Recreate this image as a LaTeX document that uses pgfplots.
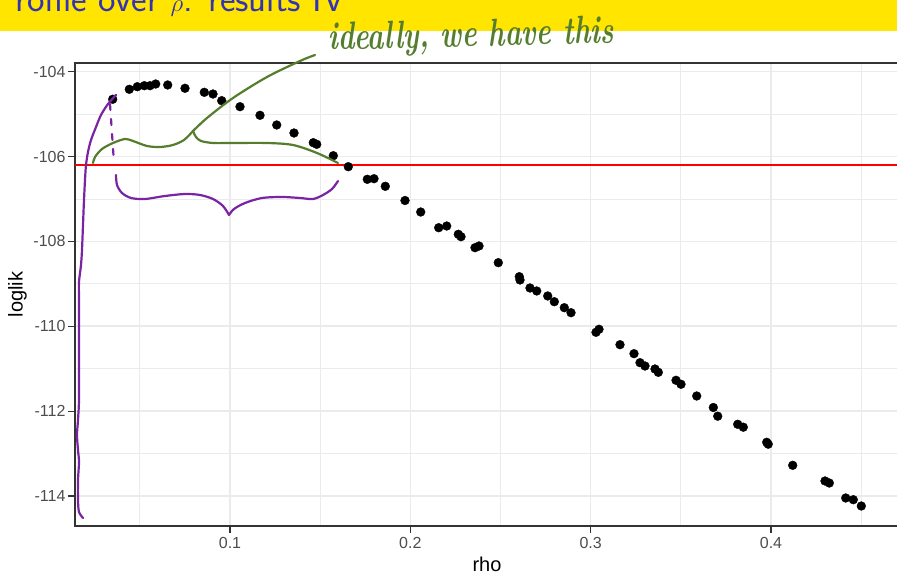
\documentclass[border=0pt]{standalone}
\usepackage{pgfplots}
\usepackage{pgfplotstable}
\pgfplotsset{compat=1.18}
\usepackage{fontspec}
\newfontfamily\ggfont{Liberation Sans}
\definecolor{gridgrey}{RGB}{235,235,235}
\definecolor{bordergrey}{RGB}{51,51,51}
\definecolor{ticklab}{RGB}{77,77,77}
\definecolor{beamerblue}{RGB}{51,51,179}
\definecolor{baryellow}{RGB}{255,229,0}
\definecolor{penGreen}{RGB}{84,125,46}
\definecolor{penPurple}{RGB}{122,36,163}

\pgfplotstableread{
rho loglik
0.03495 -104.650
0.04416 -104.415
0.04860 -104.354
0.05248 -104.330
0.05564 -104.330
0.05880 -104.290
0.06545 -104.313
0.07505 -104.391
0.08575 -104.486
0.09057 -104.526
0.09540 -104.683
0.10555 -104.825
0.11664 -105.028
0.12590 -105.256
0.13549 -105.445
0.14619 -105.673
0.14808 -105.711
0.15728 -105.980
0.16560 -106.239
0.17614 -106.536
0.17985 -106.522
0.18612 -106.701
0.19704 -107.036
0.20575 -107.307
0.21573 -107.677
0.22017 -107.637
0.22660 -107.832
0.22810 -107.889
0.23586 -108.148
0.23808 -108.108
0.24878 -108.501
0.26043 -108.831
0.26082 -108.909
0.26636 -109.098
0.27008 -109.168
0.27618 -109.286
0.27984 -109.421
0.28538 -109.562
0.28910 -109.680
0.30296 -110.142
0.30462 -110.071
0.31627 -110.434
0.32403 -110.646
0.32736 -110.858
0.33013 -110.936
0.33568 -111.007
0.33751 -111.085
0.34733 -111.273
0.35010 -111.367
0.35880 -111.643
0.36801 -111.914
0.37045 -112.119
0.38154 -112.310
0.38464 -112.378
0.39762 -112.734
0.39845 -112.779
0.41204 -113.277
0.42995 -113.646
0.43233 -113.694
0.44143 -114.047
0.44564 -114.087
0.45008 -114.236
}\profiledata

\begin{document}
\begin{tikzpicture}[x=1pt,y=1pt]
\useasboundingbox (0pt,0pt) rectangle (897pt,575pt);
\clip (0pt,0pt) rectangle (897pt,575pt);
% slide title bar
\fill[baryellow] (0pt,544pt) rectangle (897pt,575pt);
\node[anchor=base west, inner sep=0pt, text=beamerblue,
      font=\sffamily\fontsize{37}{40}\selectfont] at (15pt,563pt) {rofile over $\rho$: results IV};

\begin{axis}[
  at={(75pt,49pt)}, anchor=south west,
  scale only axis, width=824pt, height=463pt,
  xmin=0.014047, xmax=0.47098,
  ymin=-114.707, ymax=-103.795,
  xtick={0.1,0.2,0.3,0.4},
  xticklabels={0.1,0.2,0.3,0.4},
  ytick={-114,-112,-110,-108,-106,-104},
  yticklabels={-114,-112,-110,-108,-106,-104},
  minor xtick={0.05,0.15,0.25,0.35,0.45},
  minor ytick={-113,-111,-109,-107,-105},
  grid=both,
  major grid style={gridgrey, line width=1.6pt},
  minor grid style={gridgrey, line width=0.9pt},
  tick pos=left,
  tick align=outside,
  major tick length=7pt,
  minor tick length=0pt,
  tick style={bordergrey, line width=1.1pt},
  axis line style={bordergrey, line width=1.1pt},
  /pgf/number format/assume math mode=true,
  tick label style={font=\ggfont\fontsize{16}{16}\selectfont, text=ticklab},
  xticklabel style={inner sep=4pt},
  yticklabel style={inner sep=2.3pt},
  xlabel={rho}, ylabel={loglik},
  label style={font=\ggfont\fontsize{20}{20}\selectfont, text=black},
  xlabel style={at={(axis description cs:0.5,-0.09935)}, anchor=base},
  ylabel style={at={(axis description cs:-0.0637,0.5)}, anchor=base},
]
\addplot[red, line width=1.4pt] coordinates {(0.014047,-106.2) (0.47098,-106.2)};
\addplot[only marks, mark=*, mark size=4.4pt, mark options={fill=black, draw=black}]
  table[x=rho, y=loglik] {\profiledata};
\end{axis}

% handwritten annotations (pixel coordinates, y downwards)
\begin{scope}[shift={(0pt,575pt)}, yscale=-1, line cap=round, line join=round]
\draw[penPurple, line width=2.2pt] plot[smooth, tension=0.5] coordinates {
 (116,95) (108,104) (101,115) (96,127) (91,140) (88,152) (86,165) (85,180) (84,200)
 (83,225) (82,250) (81,265) (79,282) (79,300) (79,330) (79,360) (79,400) (78,420)
 (77,435) (78,450) (79,462) (78,480) (78,500) (79,512) (83,518)};
\draw[penPurple, line width=2.2pt, dash pattern=on 6pt off 9pt] (110,104) -- (114,163);
\draw[penPurple, line width=2.2pt] plot[smooth, tension=0.5] coordinates {
 (116,175) (117,185) (122,193) (131,198) (145,199) (165,196) (185,194) (200,195)
 (213,199) (223,206) (229,215)};
\draw[penPurple, line width=2.2pt] plot[smooth, tension=0.5] coordinates {
 (229,215) (234,209) (245,203) (262,198) (282,197) (300,198) (313,199) (323,195)
 (332,189) (338,181)};
\draw[penGreen, line width=2.2pt] plot[smooth, tension=0.5] coordinates {
 (93,163) (95,157) (102,149) (113,143) (125,139) (133,141) (147,146) (160,147)
 (173,145) (184,140) (193,131)};
\draw[penGreen, line width=2.2pt] plot[smooth, tension=0.5] coordinates {
 (193,131) (196,137) (201,141) (213,143) (233,143) (267,143) (293,145) (317,153) (338,163)};
\draw[penGreen, line width=2.2pt] plot[smooth, tension=0.5] coordinates {
 (193,131) (207,118) (233,98) (267,77) (300,61) (315,55)};
\end{scope}
\node[anchor=base west, inner sep=0pt, text=penGreen, rotate=1.4,
      font=\bfseries\itshape\fontsize{28}{28}\selectfont] at (328pt,525pt) {\scalebox{1}[1.4]{ideally, we have this}};
\end{tikzpicture}
\end{document}
